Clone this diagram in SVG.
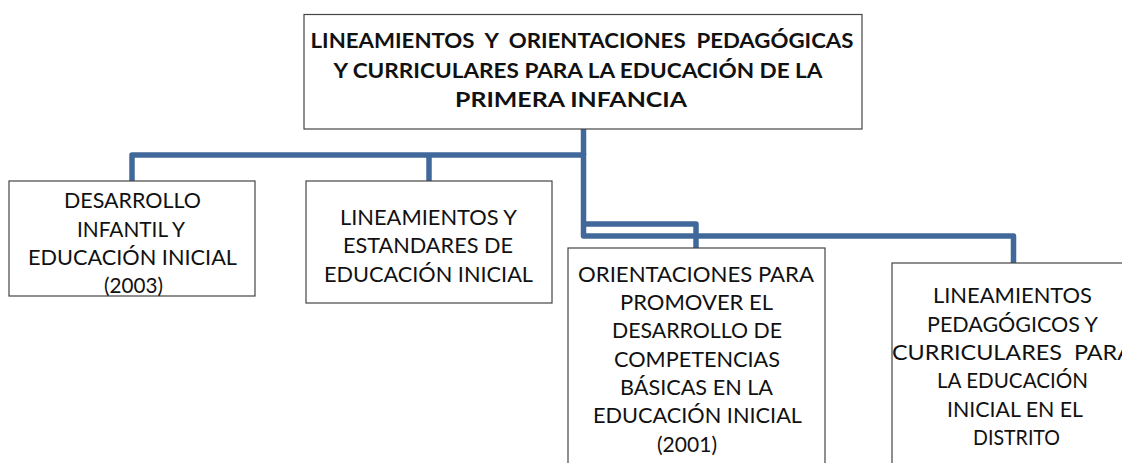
<svg xmlns="http://www.w3.org/2000/svg" width="1122" height="463" viewBox="0 0 1122 463">
<style>
.box{fill:#ffffff;stroke:#454545;stroke-width:1.2}
.conn{fill:none;stroke:#41689b;stroke-width:5.5;stroke-linejoin:round;stroke-linecap:butt}
.t{font-family:Lato,"Open Sans","Liberation Sans",sans-serif;font-size:21px;fill:#111111;text-anchor:middle;white-space:pre}
.b{font-weight:bold}
</style>
<rect width="1122" height="463" fill="#ffffff"/>
<g id="connectors">
<path class="conn" d="M583.5,129 V155"/>
<path class="conn" d="M132,181 V155 H586"/>
<path class="conn" d="M429,155 V181"/>
<path class="conn" d="M583.5,153 V236 H1013.5 V263"/>
<path class="conn" d="M583.5,224 H696 V248"/>
</g>
<g id="node-root">
<rect class="box" x="304" y="14.5" width="558" height="114.5"/>
<text class="t b" xml:space="preserve" x="582" y="48" textLength="543" lengthAdjust="spacingAndGlyphs">LINEAMIENTOS  Y  ORIENTACIONES  PEDAGÓGICAS</text>
<text class="t b" x="578" y="78" textLength="489" lengthAdjust="spacingAndGlyphs">Y CURRICULARES PARA LA EDUCACIÓN DE LA</text>
<text class="t b" x="571" y="107" textLength="232" lengthAdjust="spacingAndGlyphs">PRIMERA INFANCIA</text>
</g>
<g id="node-desarrollo">
<rect class="box" x="9" y="181" width="246" height="115"/>
<text class="t" x="132.5" y="208.3" textLength="137" lengthAdjust="spacingAndGlyphs">DESARROLLO</text>
<text class="t" x="131" y="236.7" textLength="108" lengthAdjust="spacingAndGlyphs">INFANTIL Y</text>
<text class="t" x="132.5" y="265" textLength="209" lengthAdjust="spacingAndGlyphs">EDUCACIÓN INICIAL</text>
<text class="t" x="133.5" y="292.7" textLength="59" lengthAdjust="spacingAndGlyphs">(2003)</text>
</g>
<g id="node-estandares">
<rect class="box" x="306" y="181" width="246" height="122"/>
<text class="t" x="428.5" y="225" textLength="177" lengthAdjust="spacingAndGlyphs">LINEAMIENTOS Y</text>
<text class="t" x="428" y="253.3" textLength="170" lengthAdjust="spacingAndGlyphs">ESTANDARES DE</text>
<text class="t" x="428.5" y="281.7" textLength="209" lengthAdjust="spacingAndGlyphs">EDUCACIÓN INICIAL</text>
</g>
<g id="node-orientaciones">
<rect class="box" x="568" y="248" width="257" height="230"/>
<text class="t" x="696" y="281.7" textLength="236" lengthAdjust="spacingAndGlyphs">ORIENTACIONES PARA</text>
<text class="t" x="696.5" y="310" textLength="153" lengthAdjust="spacingAndGlyphs">PROMOVER EL</text>
<text class="t" x="697" y="338.3" textLength="170" lengthAdjust="spacingAndGlyphs">DESARROLLO DE</text>
<text class="t" x="697" y="366.7" textLength="166" lengthAdjust="spacingAndGlyphs">COMPETENCIAS</text>
<text class="t" x="696.5" y="395" textLength="153" lengthAdjust="spacingAndGlyphs">BÁSICAS EN LA</text>
<text class="t" x="697.5" y="423.3" textLength="209" lengthAdjust="spacingAndGlyphs">EDUCACIÓN INICIAL</text>
<text class="t" x="687" y="451.7" textLength="60" lengthAdjust="spacingAndGlyphs">(2001)</text>
</g>
<g id="node-distrito">
<rect class="box" x="892" y="263" width="242" height="215"/>
<text class="t" x="1012.5" y="303.3" textLength="159" lengthAdjust="spacingAndGlyphs">LINEAMIENTOS</text>
<text class="t" x="1012.5" y="331.7" textLength="171" lengthAdjust="spacingAndGlyphs">PEDAGÓGICOS Y</text>
<text class="t" xml:space="preserve" x="1012.5" y="360" textLength="241" lengthAdjust="spacingAndGlyphs">CURRICULARES  PARA</text>
<text class="t" x="1012.5" y="388.3" textLength="151" lengthAdjust="spacingAndGlyphs">LA EDUCACIÓN</text>
<text class="t" x="1015" y="416.7" textLength="136" lengthAdjust="spacingAndGlyphs">INICIAL EN EL</text>
<text class="t" x="1016.5" y="445" textLength="87" lengthAdjust="spacingAndGlyphs">DISTRITO</text>
</g>
</svg>
